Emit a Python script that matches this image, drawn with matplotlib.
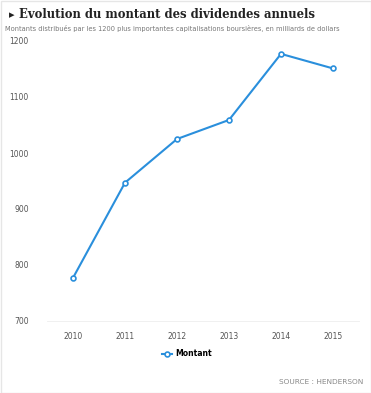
import matplotlib
matplotlib.use("Agg")
import matplotlib.pyplot as plt
from matplotlib.lines import Line2D

years = ["2010", "2011", "2012", "2013", "2014", "2015"]
montant = [777, 947, 1025, 1059, 1177, 1151]
yticks = [700, 800, 900, 1000, 1100, 1200]

title = "Evolution du montant des dividendes annuels"
subtitle = "Montants distribués par les 1200 plus importantes capitalisations boursières, en milliards de dollars"
source = "SOURCE : HENDERSON"
series_name = "Montant"

W, H = 371, 393
color = "#2a8fdc"

fig = plt.figure(figsize=(W / 100, H / 100), dpi=100)
fig.patch.set_facecolor("white")

ax = fig.add_axes([47 / W, 1 - 321 / H, (359 - 47) / W, (321 - 41) / H])
x = list(range(len(years)))
ax.plot(x, montant, color=color, lw=1.5, marker="o", ms=3.5,
        mfc="white", mec=color, mew=1.2, zorder=3)
ax.set_xlim(-0.5, len(years) - 0.5)
ax.set_ylim(700, 1200)
ax.set_yticks(yticks)
ax.set_yticklabels([str(v) for v in yticks], fontsize=5.5, color="#555555")
ax.set_xticks(x)
ax.set_xticklabels(years, fontsize=5.5, color="#555555")
ax.tick_params(length=0, pad=8)
ax.tick_params(axis="y", pad=13)
for s in ["top", "right", "left"]:
    ax.spines[s].set_visible(False)
ax.spines["bottom"].set_color("#eeeeee")
ax.spines["bottom"].set_linewidth(0.6)
ax.set_facecolor("white")

fig.text(9 / W, 1 - 15 / H, "\u25B8", fontsize=8, color="#222222",
         va="center", ha="left")
fig.text(19 / W, 1 - 14 / H, title, fontsize=9.3, fontweight="bold",
         family="DejaVu Serif", fontstretch="condensed", color="#222222",
         va="center", ha="left")
fig.text(5 / W, 1 - 29 / H, subtitle, fontsize=4.75, color="#777777",
         va="center", ha="left")
fig.text(363 / W, 1 - 382 / H, source, fontsize=5.3, color="#888888",
         va="center", ha="right")

handle = Line2D([0], [0], color=color, lw=1.5, marker="o", ms=3.5,
                mfc="white", mec=color, mew=1.2)
fig.legend([handle], [series_name], loc="center", bbox_to_anchor=(187 / W, 1 - 354 / H),
           frameon=False, handlelength=1.3, handletextpad=0.5,
           prop={"size": 5.6, "weight": "bold"})

border = plt.Rectangle((0.5 / W, 0.5 / H), (W - 1) / W, (H - 1) / H, transform=fig.transFigure,
                       fill=False, edgecolor="#e6e6e6", lw=1)
fig.patches.append(border)

fig.savefig("out.png", dpi=100, facecolor="white")
